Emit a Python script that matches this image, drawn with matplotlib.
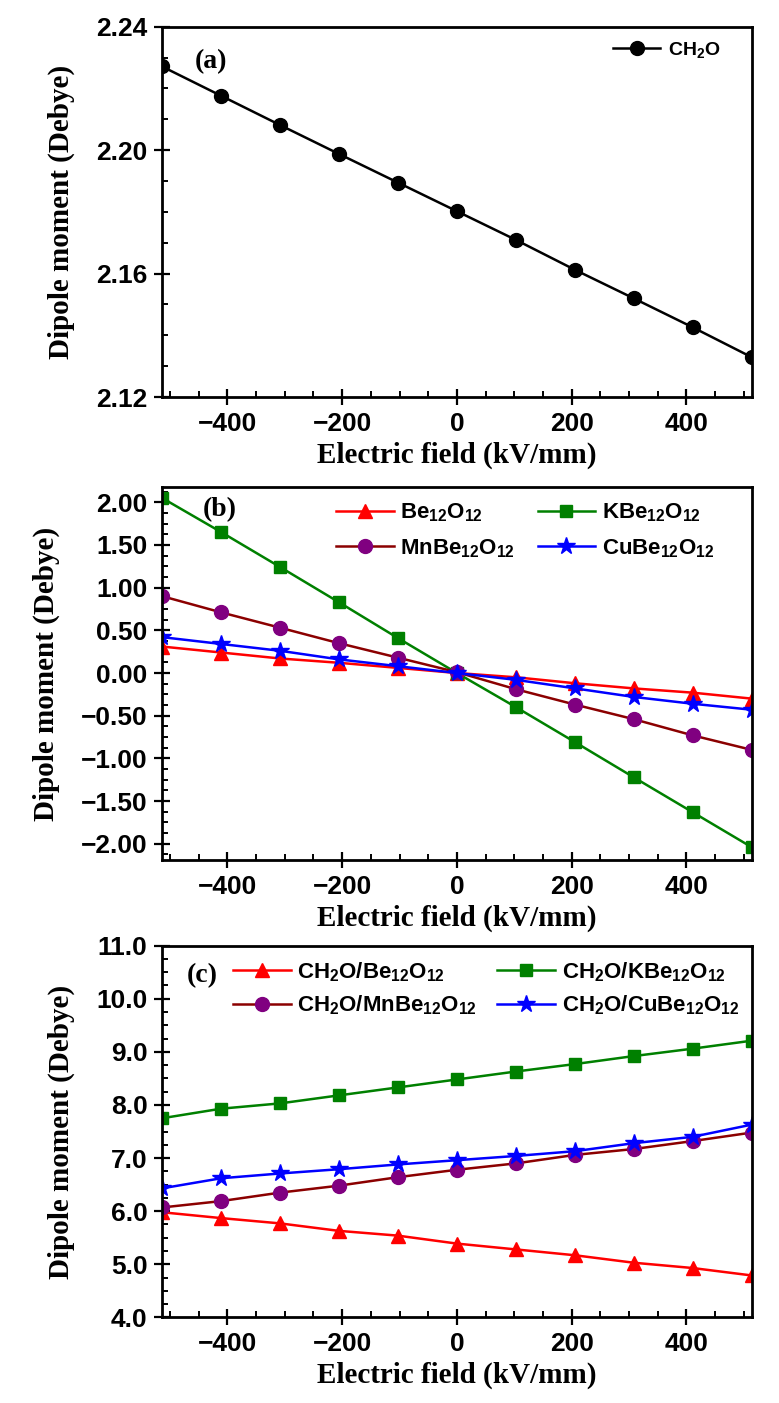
import matplotlib
matplotlib.use("Agg")
import matplotlib.pyplot as plt
from matplotlib.ticker import MultipleLocator, FuncFormatter

plt.rcParams['font.family'] = ['Liberation Sans', 'DejaVu Sans']
plt.rcParams['mathtext.default'] = 'regular'

# electric field (kV/mm)
field = [-514, -411, -308, -206, -103, 0, 103, 206, 308, 411, 514]

# (a) isolated CH2O
ch2o = [2.2271, 2.2176, 2.2081, 2.1988, 2.1895, 2.1802, 2.1709, 2.1612, 2.1520, 2.1426, 2.1329]

# (b) bare cages
be12o12 = [0.31, 0.24, 0.17, 0.12, 0.06, 0.0, -0.05, -0.12, -0.18, -0.23, -0.30]
kbe12o12 = [2.05, 1.65, 1.24, 0.83, 0.41, 0.0, -0.40, -0.81, -1.22, -1.63, -2.04]
mnbe12o12 = [0.90, 0.71, 0.53, 0.35, 0.18, 0.01, -0.19, -0.37, -0.54, -0.73, -0.90]
cube12o12 = [0.42, 0.34, 0.26, 0.16, 0.08, 0.0, -0.08, -0.18, -0.28, -0.36, -0.43]

# (c) CH2O adsorbed on cages
ch2o_be = [5.98, 5.87, 5.77, 5.63, 5.54, 5.39, 5.28, 5.17, 5.03, 4.93, 4.79]
ch2o_k = [7.75, 7.93, 8.03, 8.18, 8.33, 8.48, 8.63, 8.77, 8.92, 9.06, 9.21]
ch2o_mn = [6.07, 6.19, 6.35, 6.48, 6.64, 6.78, 6.90, 7.06, 7.17, 7.32, 7.48]
ch2o_cu = [6.43, 6.62, 6.71, 6.79, 6.88, 6.96, 7.04, 7.13, 7.28, 7.40, 7.63]

label_font = dict(family='Liberation Serif', weight='bold', size=21)
legend_font = dict(weight='bold', size=16)

fig = plt.figure(figsize=(7.79, 14.03), dpi=100)
ax_a = fig.add_axes([0.208, 0.717, 0.757, 0.264])
ax_b = fig.add_axes([0.208, 0.387, 0.757, 0.266])
ax_c = fig.add_axes([0.208, 0.061, 0.757, 0.265])


def minus_fmt(fmt):
    return FuncFormatter(lambda v, pos: (fmt % v).replace('-', '\u2212'))


def style_axis(ax, ylim, ymajor, yminor, yfmt, tag, tag_xy):
    ax.set_xlim(-514, 514)
    ax.set_ylim(*ylim)
    ax.xaxis.set_major_locator(MultipleLocator(200))
    ax.xaxis.set_minor_locator(MultipleLocator(50))
    ax.xaxis.set_major_formatter(minus_fmt('%d'))
    ax.yaxis.set_major_locator(MultipleLocator(ymajor))
    ax.yaxis.set_minor_locator(MultipleLocator(yminor))
    ax.yaxis.set_major_formatter(minus_fmt(yfmt))
    ax.tick_params(which='major', direction='inout', length=11, width=1.6,
                   labelsize=19, pad=5)
    ax.tick_params(which='minor', direction='in', length=4, width=1.4)
    for lab in ax.get_xticklabels() + ax.get_yticklabels():
        lab.set_fontweight('bold')
    for sp in ax.spines.values():
        sp.set_linewidth(2)
    ax.set_xlabel('Electric field (kV/mm)', labelpad=4, **label_font)
    ax.set_ylabel('Dipole moment (Debye)', labelpad=15, **label_font)
    ax.text(tag_xy[0], tag_xy[1], tag, transform=ax.transAxes, ha='center', va='center',
            family='Liberation Serif', weight='bold', size=20)


# panel (a)
ax_a.plot(field, ch2o, '-o', color='black', lw=1.8, ms=10, label='CH$_2$O')
style_axis(ax_a, (2.12, 2.24), 0.04, 0.01, '%.2f', '(a)', (0.083, 0.905))
ax_a.legend(loc='upper right', frameon=False, handlelength=2.4, handletextpad=0.4,
            prop=dict(weight='bold', size=14), bbox_to_anchor=(0.96, 0.985),
            borderaxespad=0)

# panel (b)
lb_be, = ax_b.plot(field, be12o12, '-^', color='#FF0000', lw=1.8, ms=10, label='Be$_{12}$O$_{12}$')
lb_k, = ax_b.plot(field, kbe12o12, '-s', color='#008000', lw=1.8, ms=9, label='KBe$_{12}$O$_{12}$')
lb_mn, = ax_b.plot(field, mnbe12o12, '-o', color='#8B0000', mfc='#800080', mec='#800080',
                   lw=1.8, ms=10, label='MnBe$_{12}$O$_{12}$')
lb_cu, = ax_b.plot(field, cube12o12, '-*', color='#0000FF', lw=1.8, ms=13, label='CuBe$_{12}$O$_{12}$')
style_axis(ax_b, (-2.19, 2.18), 0.5, 0.125, '%.2f', '(b)', (0.098, 0.938))
ax_b.legend(handles=[lb_be, lb_mn, lb_k, lb_cu], loc='upper left', ncol=2, frameon=False,
            handlelength=2.6, columnspacing=1.0, handletextpad=0.3, labelspacing=0.6,
            prop=legend_font, bbox_to_anchor=(0.28, 0.985), borderaxespad=0)

# panel (c)
lc_be, = ax_c.plot(field, ch2o_be, '-^', color='#FF0000', lw=1.8, ms=10, label='CH$_2$O/Be$_{12}$O$_{12}$')
lc_k, = ax_c.plot(field, ch2o_k, '-s', color='#008000', lw=1.8, ms=9, label='CH$_2$O/KBe$_{12}$O$_{12}$')
lc_mn, = ax_c.plot(field, ch2o_mn, '-o', color='#8B0000', mfc='#800080', mec='#800080',
                   lw=1.8, ms=10, label='CH$_2$O/MnBe$_{12}$O$_{12}$')
lc_cu, = ax_c.plot(field, ch2o_cu, '-*', color='#0000FF', lw=1.8, ms=13, label='CH$_2$O/CuBe$_{12}$O$_{12}$')
style_axis(ax_c, (4.0, 11.0), 1.0, 0.25, '%.1f', '(c)', (0.068, 0.92))
ax_c.legend(handles=[lc_be, lc_mn, lc_k, lc_cu], loc='upper left', ncol=2, frameon=False,
            handlelength=2.6, columnspacing=0.9, handletextpad=0.3, labelspacing=0.45,
            prop=legend_font, bbox_to_anchor=(0.105, 0.985), borderaxespad=0)

fig.savefig('out.png', dpi=100)
